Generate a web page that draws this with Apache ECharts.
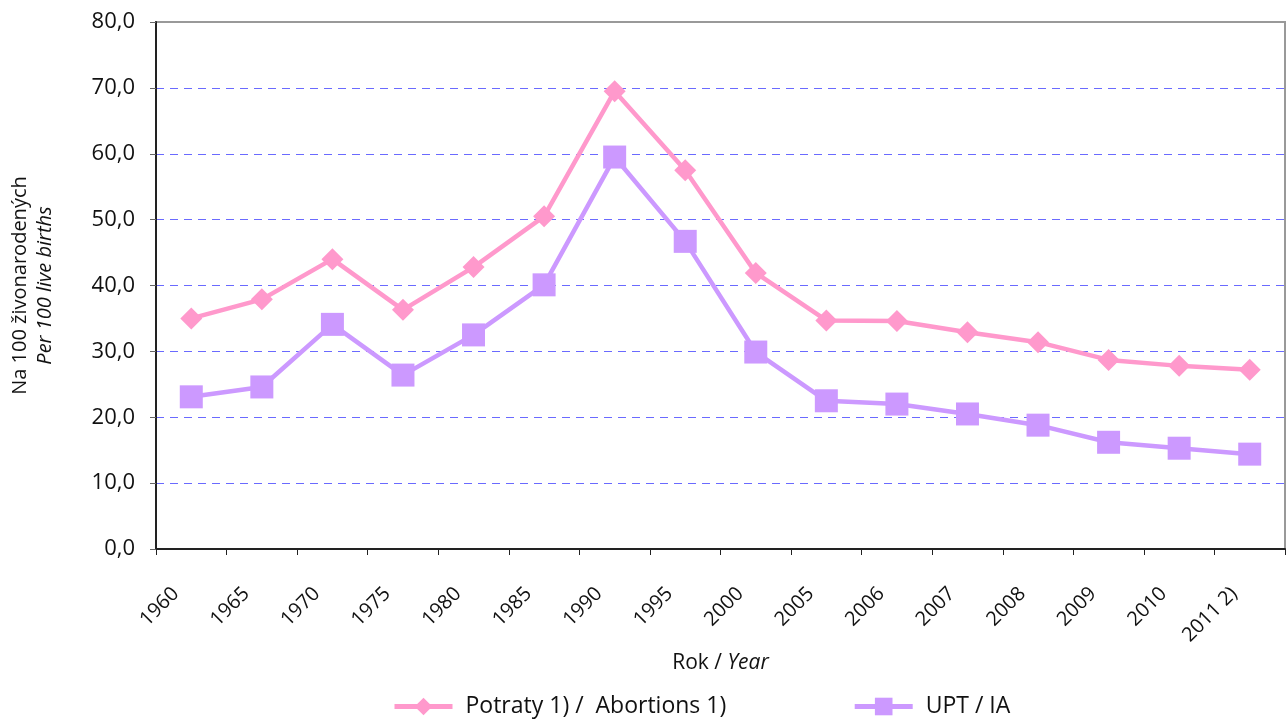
<!DOCTYPE html>
<html>
<head>
<meta charset="utf-8">
<script src="https://cdn.jsdelivr.net/npm/echarts@6/dist/echarts.min.js"></script>
<style>
  html, body { margin: 0; padding: 0; background: #fff; }
  #chart { width: 1287px; height: 722px; }
</style>
</head>
<body>
<div id="chart"></div>
<script>
// kategorie (roky)
const years = ['1960', '1965', '1970', '1975', '1980', '1985', '1990', '1995', '2000',
  '2005', '2006', '2007', '2008', '2009', '2010', '2011 2)'];

// Potraty 1) / Abortions 1)
const abortions = [35.0, 37.9, 44.0, 36.3, 42.8, 50.5, 69.5, 57.5, 41.9,
  34.7, 34.6, 32.9, 31.4, 28.7, 27.8, 27.2];

// UPT / IA
const induced = [23.1, 24.6, 34.1, 26.4, 32.5, 40.1, 59.5, 46.7, 29.9,
  22.5, 22.0, 20.5, 18.8, 16.2, 15.3, 14.4];

const seriesNames = ['Potraty 1) /  Abortions 1)', 'UPT / IA'];

const chart = echarts.init(document.getElementById('chart'));
const font = 'Open Sans';

const option = {
  animation: false,
  textStyle: { fontFamily: font, color: '#111' },
  grid: {
    left: 156, right: 2, top: 22, bottom: 173,
    outerBoundsMode: 'none',
    containLabel: false,
    show: true, borderColor: '#999', borderWidth: 2
  },
  legend: {
    top: 695,
    left: 392,
    padding: 0,
    itemGap: 126,
    itemWidth: 58,
    itemHeight: 22,
    lineStyle: { width: 5 },
    textStyle: { fontSize: 23, fontFamily: font, color: '#111', padding: [0, 0, 0, 8] },
    data: seriesNames
  },
  xAxis: {
    type: 'category',
    data: years,
    boundaryGap: true,
    name: '{n|Rok / }{i|Year}',
    nameLocation: 'middle',
    nameGap: 102,
    nameTextStyle: {
      rich: {
        n: { fontSize: 21, fontFamily: font, color: '#111' },
        i: { fontSize: 21, fontFamily: font, fontStyle: 'italic', color: '#111' }
      }
    },
    axisLine: { lineStyle: { color: '#222', width: 2 } },
    axisTick: { show: true, length: 6, lineStyle: { color: '#222' } },
    axisLabel: {
      rotate: 45, fontSize: 20, color: '#111', margin: 26, interval: 0,
      padding: [0, 22, 0, 0]
    },
    splitLine: { show: false }
  },
  yAxis: {
    type: 'value',
    min: 0,
    max: 80,
    interval: 10,
    name: '{n|Na 100 živonarodených}\n{i|Per 100 live births}',
    nameLocation: 'middle',
    nameGap: 98,
    nameRotate: 90,
    nameTextStyle: {
      rich: {
        n: { fontSize: 20, fontFamily: font, color: '#111', lineHeight: 25 },
        i: { fontSize: 20, fontFamily: font, fontStyle: 'italic', color: '#111', lineHeight: 25 }
      }
    },
    axisLine: { show: true, lineStyle: { color: '#222', width: 2 } },
    axisTick: { show: true, length: 6, lineStyle: { color: '#666' } },
    axisLabel: {
      fontSize: 22, color: '#111', margin: 21,
      formatter: v => v.toFixed(1).replace('.', ',')
    },
    splitLine: {
      show: true,
      showMaxLine: false,
      lineStyle: { color: '#6a6aff', type: [8, 6], width: 1 }
    }
  },
  series: [
    {
      name: seriesNames[0],
      type: 'line',
      data: abortions,
      symbol: 'diamond',
      symbolSize: 22,
      lineStyle: { color: '#ff99cc', width: 4.5 },
      itemStyle: { color: '#ff99cc' }
    },
    {
      name: seriesNames[1],
      type: 'line',
      data: induced,
      symbol: 'rect',
      symbolSize: 23,
      lineStyle: { color: '#cc99ff', width: 4.5 },
      itemStyle: { color: '#cc99ff' }
    }
  ]
};

chart.setOption(option);
</script>
</body>
</html>
